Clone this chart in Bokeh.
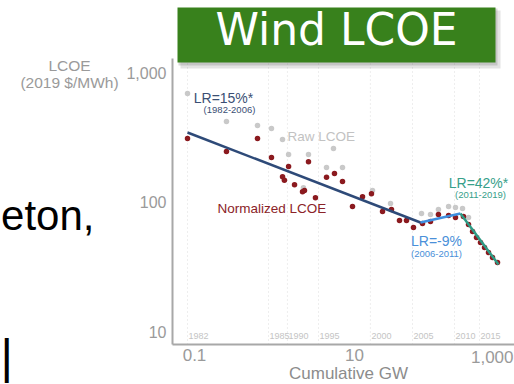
from math import log10
from bokeh.plotting import figure
from bokeh.models import FixedTicker, Label, BoxAnnotation
from bokeh.embed import file_html
from bokeh.resources import INLINE

# ---------------- data ----------------
raw_gw = [0.0818, 0.251, 0.613, 0.917, 1.26, 1.50, 2.66, 5.46, 4.47, 7.08,
          2.30, 16.8, 28.2, 68.8, 89.1, 112, 150, 183, 224, 266]
raw_lcoe = [689, 419, 390, 370, 304, 233, 233, 259, 185, 185,
            129, 123, 97.3, 81.5, 80.1, 87.5, 92.3, 90.7, 89.1, 75.9]

norm_gw = [0.0818, 0.251, 0.613, 0.917, 1.26, 1.33, 1.50, 1.78, 2.24, 2.37,
           2.66, 3.25, 4.47, 5.62, 7.08, 9.44, 12.6, 16.3, 22.4, 29.0,
           36.5, 44.7, 54.6, 70.8, 89.1, 112, 150, 183, 230,
           266, 299, 335, 376, 422, 473, 531, 613]
norm_lcoe = [309, 245, 309, 221, 157, 147, 188, 136, 120, 123,
             205, 108, 155, 166, 144, 92.3, 110, 116, 84.5, 87.5,
             72.0, 72.0, 63.6, 68.2, 70.7, 80.1, 78.7, 75.9, 77.3,
             67.0, 59.2, 53.2, 48.7, 44.5, 40.7, 37.3, 34.1]

fit1_gw, fit1_lcoe = [0.0818, 66.8], [344, 69.5]      # LR=15% (1982-2006)
fit2_gw, fit2_lcoe = [66.8, 211], [69.5, 81.5]        # LR=-9% (2006-2011)
fit3_gw, fit3_lcoe = [211, 631], [81.5, 32.9]         # LR=42% (2011-2019)

year_labels = ["1982", "1985", "1990", "1995", "2000", "2005", "2010", "2015"]
year_gw = [0.0818, 0.841, 1.45, 3.55, 15.8, 53.1, 178, 365]

x_ticks = [0.1, 10, 1000]
y_ticks = [10, 100, 1000]

# ---------------- layout helpers (picture pixel -> data) ----------------
X0, X1 = 0.0531, 1000.0
Y0, Y1 = 7.94, 1283.0
FL, FR, FT, FB = 172, 514, 58, 344   # axes box in picture pixels


def dx(r):
    return 10 ** (log10(X0) + (r - FL) / (FR - FL) * (log10(X1) - log10(X0)))


def dy(r):
    return 10 ** (log10(Y1) - (r - FT) / (FB - FT) * (log10(Y1) - log10(Y0)))


W, H = 514, 384
p = figure(width=W, height=H, x_axis_type="log", y_axis_type="log",
           x_range=(dx(0), dx(W)), y_range=(dy(H), dy(0)),
           output_backend="svg", toolbar_location=None, min_border=0)
p.outline_line_color = None
p.grid.visible = False
p.background_fill_color = "white"
p.border_fill_color = "white"

FONT = "Liberation Sans"
for ax in (p.xaxis[0], p.yaxis[0]):
    ax.axis_line_color = "#a8a8a8"
    ax.axis_line_width = 2
    ax.major_tick_line_color = None
    ax.minor_tick_line_color = None
    ax.major_tick_out = 0
    ax.major_tick_in = 0
    ax.minor_tick_out = 0
    ax.major_label_text_font = FONT
    ax.major_label_text_color = "#9a9a9a"

p.xaxis.fixed_location = dy(FB)
p.xaxis.bounds = (dx(FL), dx(FR))
p.xaxis.ticker = FixedTicker(ticks=x_ticks)
p.xaxis.major_label_overrides = {0.1: "0.1", 10: "10", 1000: ""}
p.xaxis.major_label_text_font_size = "17px"
p.xaxis.major_label_standoff = 4

p.yaxis.fixed_location = dx(FL)
p.yaxis.bounds = (dy(FB), dy(FT))
p.yaxis.ticker = FixedTicker(ticks=y_ticks)
p.yaxis.major_label_overrides = {10: "10", 100: "100", 1000: "1,000"}
p.yaxis.major_label_text_font_size = "16px"
p.yaxis.major_label_standoff = 6

# year gridlines (dotted) + labels
n = len(year_gw)
p.segment(x0=year_gw, x1=year_gw, y0=[dy(FB)] * n, y1=[dy(FT)] * n,
          line_color="#dcdcdc", line_width=1, line_dash="1 3")
for yl, g in zip(year_labels, year_gw):
    p.add_layout(Label(x=g, y=dy(335), text=yl, x_offset=1,
                       text_font=FONT, text_font_size="9px",
                       text_color="#c4c4c4", text_baseline="middle",
                       text_align="left"))

# points
p.scatter(raw_gw, raw_lcoe, size=5.5, color="#c9c9c9", line_color=None)
p.scatter(norm_gw, norm_lcoe, size=5.5, color="#8b1a1f", line_color=None)

# fitted learning curves
p.line(fit1_gw, fit1_lcoe, line_color="#2e4a78", line_width=2.5)
p.line(fit2_gw, fit2_lcoe, line_color="#3f8fe0", line_width=2.5)
p.line(fit3_gw, fit3_lcoe, line_color="#2d9a84", line_width=2.5)


def lab(x, y, t, size, color, align="center", baseline="middle", font=FONT):
    p.add_layout(Label(x=dx(x), y=dy(y), text=t, text_font=font,
                       text_font_size=size, text_color=color,
                       text_align=align, text_baseline=baseline))


def box(l, r, t, b, color, alpha):
    p.add_layout(BoxAnnotation(left=dx(l), right=dx(r), top=dy(t), bottom=dy(b),
                               fill_color=color, fill_alpha=alpha, line_color=None))


# annotations in the plot
lab(223, 97, "LR=15%*", "14px", "#3b4f74")
lab(229, 109, "(1982-2006)", "9.5px", "#3b4f74")
lab(287, 136, "Raw LCOE", "13.5px", "#c2c2c2", align="left")
lab(217, 208, "Normalized LCOE", "13.5px", "#8b2328", align="left")
lab(436, 240, "LR=-9%", "14px", "#4a90d9")
lab(436, 253, "(2006-2011)", "9.5px", "#4a90d9")
lab(478, 182, "LR=42%*", "14px", "#37a08a")
lab(480, 194, "(2011-2019)", "9.5px", "#37a08a")

# axis titles and last x tick label
lab(513, 356, "1,000", "17px", "#9a9a9a", align="right")
lab(348, 373, "Cumulative GW", "17px", "#8c8c8c")
lab(69, 65, "LCOE", "15.5px", "#9a9a9a")
lab(69, 82, "(2019 $/MWh)", "15.5px", "#9a9a9a")

# slide elements: title box with shadow and cut-off body text
box(180, 500, 10, 68, "#808080", 0.22)
box(178, 497, 8, 65, "#808080", 0.3)
box(177, 495, 7, 62, "#38811c", 1.0)
lab(336, 29, "Wind LCOE", "44px", "white", font="DejaVu Sans")
lab(94, 215, "eton,", "42px", "black", align="right")
lab(0, 356, "|", "48px", "black", align="left")

open("out.html", "w").write(file_html(p, INLINE))
